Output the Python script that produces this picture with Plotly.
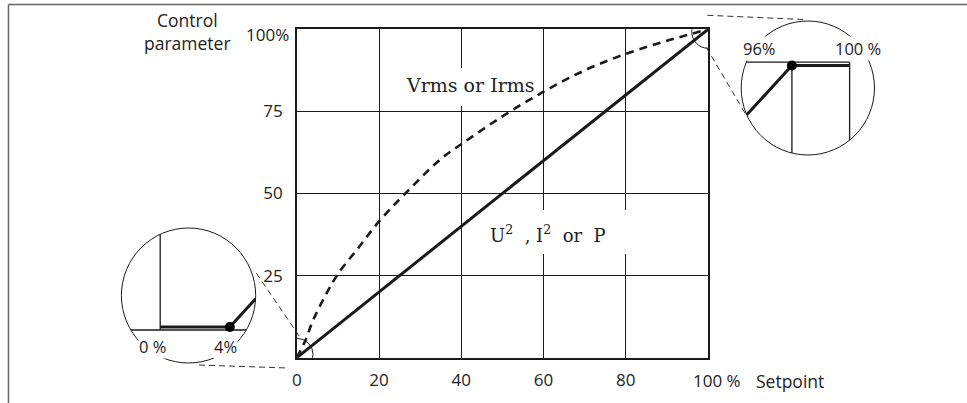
import math
import plotly.graph_objects as go

# ---------------- data ----------------
setpoint_linear = [0, 100]
param_linear = [0, 100]

setpoint_rms = [0, 2, 4, 7, 10, 15, 20, 26, 35, 40, 50, 60, 70, 80, 90, 100]
param_rms = [0, 5, 11.5, 19, 25.5, 33.5, 41.5, 49.5, 60.5, 65, 73.5, 81, 87.5, 92.5, 96.5, 100]

# details shown in the magnifier insets (dead band at start / saturation at end)
start_x = [0, 4, 12]
start_y = [0, 0, 8.7]
end_x = [88, 96, 100]
end_y = [91.3, 100, 100]

x_ticks = [0, 20, 40, 60, 80]
y_ticks = [25, 50, 75]

# ---------------- layout helpers ----------------
W, H = 967, 403
def PX(x):
    return x / W
def PY(y):
    return 1 - y / H

INK = "#1a1a1a"
TXT = "#222222"
SANS = "Open Sans, Noto Sans, sans-serif"
SERIF = "DejaVu Serif, Liberation Serif, serif"

# main plot box in pixels
MX0, MX1 = 293.3, 706.7
MY0, MY1 = 357.7, 29.3   # y pixel of 0 and 100

def DX(px):  # pixel -> main x data
    return (px - MX0) / (MX1 - MX0) * 100
def DY(py):  # pixel -> main y data
    return (MY0 - py) / (MY0 - MY1) * 100


def inset(box, opx, opy, ox, oy, s):
    x0, y0, x1, y1 = box
    dom_x = [PX(x0), PX(x1)]
    dom_y = [PY(y1), PY(y0)]
    rx = [ox + (x0 - opx) / s, ox + (x1 - opx) / s]
    ry = [oy - (y1 - opy) / s, oy + (opy - y0) / s]
    cx = ox + ((x0 + x1) / 2 - opx) / s
    cy = oy + (opy - (y0 + y1) / 2) / s
    r = (x1 - x0) / 2 / s
    return dom_x, dom_y, rx, ry, (cx, cy, r)


def clip_to_circle(xs, ys, circ):
    cx, cy, r = circ
    ox, oy = [], []
    for i in range(len(xs) - 1):
        x0, y0, x1, y1 = xs[i], ys[i], xs[i + 1], ys[i + 1]
        dx, dy = x1 - x0, y1 - y0
        fx, fy = x0 - cx, y0 - cy
        a = dx * dx + dy * dy
        b = 2 * (fx * dx + fy * dy)
        c = fx * fx + fy * fy - r * r
        disc = b * b - 4 * a * c
        if a == 0 or disc <= 0:
            continue
        sq = math.sqrt(disc)
        t1 = max(0.0, (-b - sq) / (2 * a))
        t2 = min(1.0, (-b + sq) / (2 * a))
        if t1 >= t2:
            continue
        p = (x0 + t1 * dx, y0 + t1 * dy)
        q = (x0 + t2 * dx, y0 + t2 * dy)
        if ox and ox[-1] is not None and abs(ox[-1] - p[0]) < 1e-9 and abs(oy[-1] - p[1]) < 1e-9:
            ox.append(q[0]); oy.append(q[1])
        else:
            if ox:
                ox.append(None); oy.append(None)
            ox += [p[0], q[0]]; oy += [p[1], q[1]]
    return ox, oy


# inset 1 (bottom-left, around 0..4 %)
S1 = 17.5
d1x, d1y, r1x, r1y, c1 = inset((117, 228, 252, 363), 156, 327, 0, 0, S1)
f1 = -3 / S1
# inset 2 (top-right, around 96..100 %)
S2 = 14.5
d2x, d2y, r2x, r2y, c2 = inset((740, 21, 874, 155), 791, 65.5, 96, 100, S2)
f2 = 3.3 / S2

fig = go.Figure()

# main curves
fig.add_trace(go.Scatter(x=setpoint_rms, y=param_rms, mode="lines", line_shape="spline",
                         line=dict(color=INK, width=2.6, dash="8px,6px"),
                         hoverinfo="skip", showlegend=False))
fig.add_trace(go.Scatter(x=setpoint_linear, y=param_linear, mode="lines",
                         line=dict(color=INK, width=3), hoverinfo="skip", showlegend=False))

# inset 1 content
thin = dict(color=INK, width=1.3)
for xs, ys in [([0, 0], [f1, 50]), ([-50, 50], [f1, f1])]:
    cx_, cy_ = clip_to_circle(xs, ys, c1)
    fig.add_trace(go.Scatter(x=cx_, y=cy_, xaxis="x2", yaxis="y2", mode="lines",
                             line=thin, hoverinfo="skip", showlegend=False))
sx, sy = clip_to_circle(start_x, start_y, c1)
fig.add_trace(go.Scatter(x=sx, y=sy, xaxis="x2", yaxis="y2", mode="lines",
                         line=dict(color=INK, width=3), hoverinfo="skip", showlegend=False))
fig.add_trace(go.Scatter(x=[start_x[1]], y=[start_y[1]], xaxis="x2", yaxis="y2", mode="markers",
                         marker=dict(color="black", size=10), hoverinfo="skip", showlegend=False))

# inset 2 content
for xs, ys in [([50, 100], [100 + f2, 100 + f2]), ([100, 100], [100 + f2, 50]),
               ([end_x[1], end_x[1]], [end_y[1], 50])]:
    cx_, cy_ = clip_to_circle(xs, ys, c2)
    fig.add_trace(go.Scatter(x=cx_, y=cy_, xaxis="x3", yaxis="y3", mode="lines",
                             line=thin, hoverinfo="skip", showlegend=False))
ex, ey = clip_to_circle(end_x, end_y, c2)
fig.add_trace(go.Scatter(x=ex, y=ey, xaxis="x3", yaxis="y3", mode="lines",
                         line=dict(color=INK, width=3), hoverinfo="skip", showlegend=False))
fig.add_trace(go.Scatter(x=[end_x[1]], y=[end_y[1]], xaxis="x3", yaxis="y3", mode="markers",
                         marker=dict(color="black", size=10), hoverinfo="skip", showlegend=False))

shapes = []
# outer frame: top and left edges only
shapes.append(dict(type="line", xref="paper", yref="paper", x0=PX(3.5), x1=1,
                   y0=PY(4.5), y1=PY(4.5), line=dict(color="#666666", width=1.5)))
shapes.append(dict(type="line", xref="paper", yref="paper", x0=PX(3.5), x1=PX(3.5),
                   y0=PY(4.5), y1=0, line=dict(color="#666666", width=1.5)))
# white boxes behind the serif labels (hide gridlines, keep curves)
shapes.append(dict(type="rect", xref="x", yref="y", x0=DX(404), x1=DX(532),
                   y0=DY(106), y1=DY(68), line=dict(width=0), fillcolor="white", layer="between"))
shapes.append(dict(type="rect", xref="x", yref="y", x0=DX(478), x1=DX(632),
                   y0=DY(254), y1=DY(210), line=dict(width=0), fillcolor="white", layer="between"))
# inset circles
for ax in ["2", "3"]:
    shapes.append(dict(type="circle", xref=f"x{ax} domain", yref=f"y{ax} domain",
                       x0=0, x1=1, y0=0, y1=1, line=dict(color=INK, width=1)))
# small magnifier circles on the main plot
shapes.append(dict(type="circle", xref="x", yref="y", xsizemode="pixel", ysizemode="pixel",
                   xanchor=0, yanchor=0, x0=-16.3, x1=16.3, y0=-13.2, y1=19.4,
                   line=dict(color=INK, width=1)))
shapes.append(dict(type="circle", xref="x", yref="y", xsizemode="pixel", ysizemode="pixel",
                   xanchor=100, yanchor=100, x0=-16.3, x1=16.3, y0=-19, y1=14.4,
                   line=dict(color=INK, width=1)))
# dashed connectors
conn = [((252.7, 273.3), (296.7, 337.5)), ((195, 365), (284, 368)),
        ((706, 15.3), (803, 19.5)), ((705, 47.5), (745, 115))]
for (a, b) in conn:
    shapes.append(dict(type="line", xref="paper", yref="paper", x0=PX(a[0]), y0=PY(a[1]),
                       x1=PX(b[0]), y1=PY(b[1]),
                       line=dict(color="#333333", width=1, dash="6px,4px")))

ann = []
def text(t, x, y, size=17, font=SANS, xanchor="center", bg=None, **kw):
    d = dict(text=t, x=PX(x), y=PY(y), xref="paper", yref="paper", showarrow=False,
             xanchor=xanchor, yanchor="middle", font=dict(family=font, size=size, color=TXT))
    if bg:
        d.update(bgcolor=bg, borderpad=0)
    d.update(kw)
    ann.append(d)

text("Control<br>parameter", 183, 32, size=17.5)
ann.append(dict(text="100%", x=0, y=100, xref="x", yref="y", showarrow=False, xanchor="right",
                yanchor="middle", xshift=-6, yshift=-5, font=dict(family=SANS, size=17, color=TXT)))
ann.append(dict(text="100 %", x=100, y=PY(380.7), xref="x", yref="paper", showarrow=False,
                xanchor="center", yanchor="middle", xshift=9, font=dict(family=SANS, size=17, color=TXT)))
text("Setpoint", 753, 380.7, xanchor="left", size=17.5)
text("Vrms or Irms", 468, 85, size=19, font=SERIF)
text("U<sup>2</sup>\u00a0\u00a0, I<sup>2</sup>\u00a0 or\u00a0 P", 546, 234, size=18, font=SERIF)
text("96%", 758, 48, size=16.5, bg="white")
text("100 %", 857, 48, size=16.5, bg="white")
text("0 %", 148.3, 346.7, size=16.5, bg="white")
text("4%", 221.7, 346.7, size=16.5, bg="white")

axis_common = dict(showgrid=True, gridcolor=INK, gridwidth=1.1, zeroline=False,
                   showline=True, mirror=True, linecolor=INK, linewidth=1.5,
                   ticks="", tickfont=dict(family=SANS, size=17, color=TXT), fixedrange=True)

fig.update_layout(
    width=W, height=H, autosize=False,
    margin=dict(l=0, r=0, t=0, b=0),
    paper_bgcolor="white", plot_bgcolor="white",
    showlegend=False,
    xaxis=dict(domain=[PX(MX0), PX(MX1)], range=[0, 100], tickvals=x_ticks,
               ticklabelstandoff=6, **axis_common),
    yaxis=dict(domain=[PY(MY0), PY(MY1)], range=[0, 100], tickvals=y_ticks,
               ticklabelstandoff=9, **axis_common),
    xaxis2=dict(domain=d1x, range=r1x, anchor="y2", visible=False, fixedrange=True),
    yaxis2=dict(domain=d1y, range=r1y, anchor="x2", visible=False, fixedrange=True),
    xaxis3=dict(domain=d2x, range=r2x, anchor="y3", visible=False, fixedrange=True),
    yaxis3=dict(domain=d2y, range=r2y, anchor="x3", visible=False, fixedrange=True),
    shapes=shapes,
    annotations=ann,
)

fig.write_html("out.html", config={"displayModeBar": False},
               post_script="document.body.style.margin='0';document.body.style.padding='0';"
                           "document.body.style.overflow='hidden';")
